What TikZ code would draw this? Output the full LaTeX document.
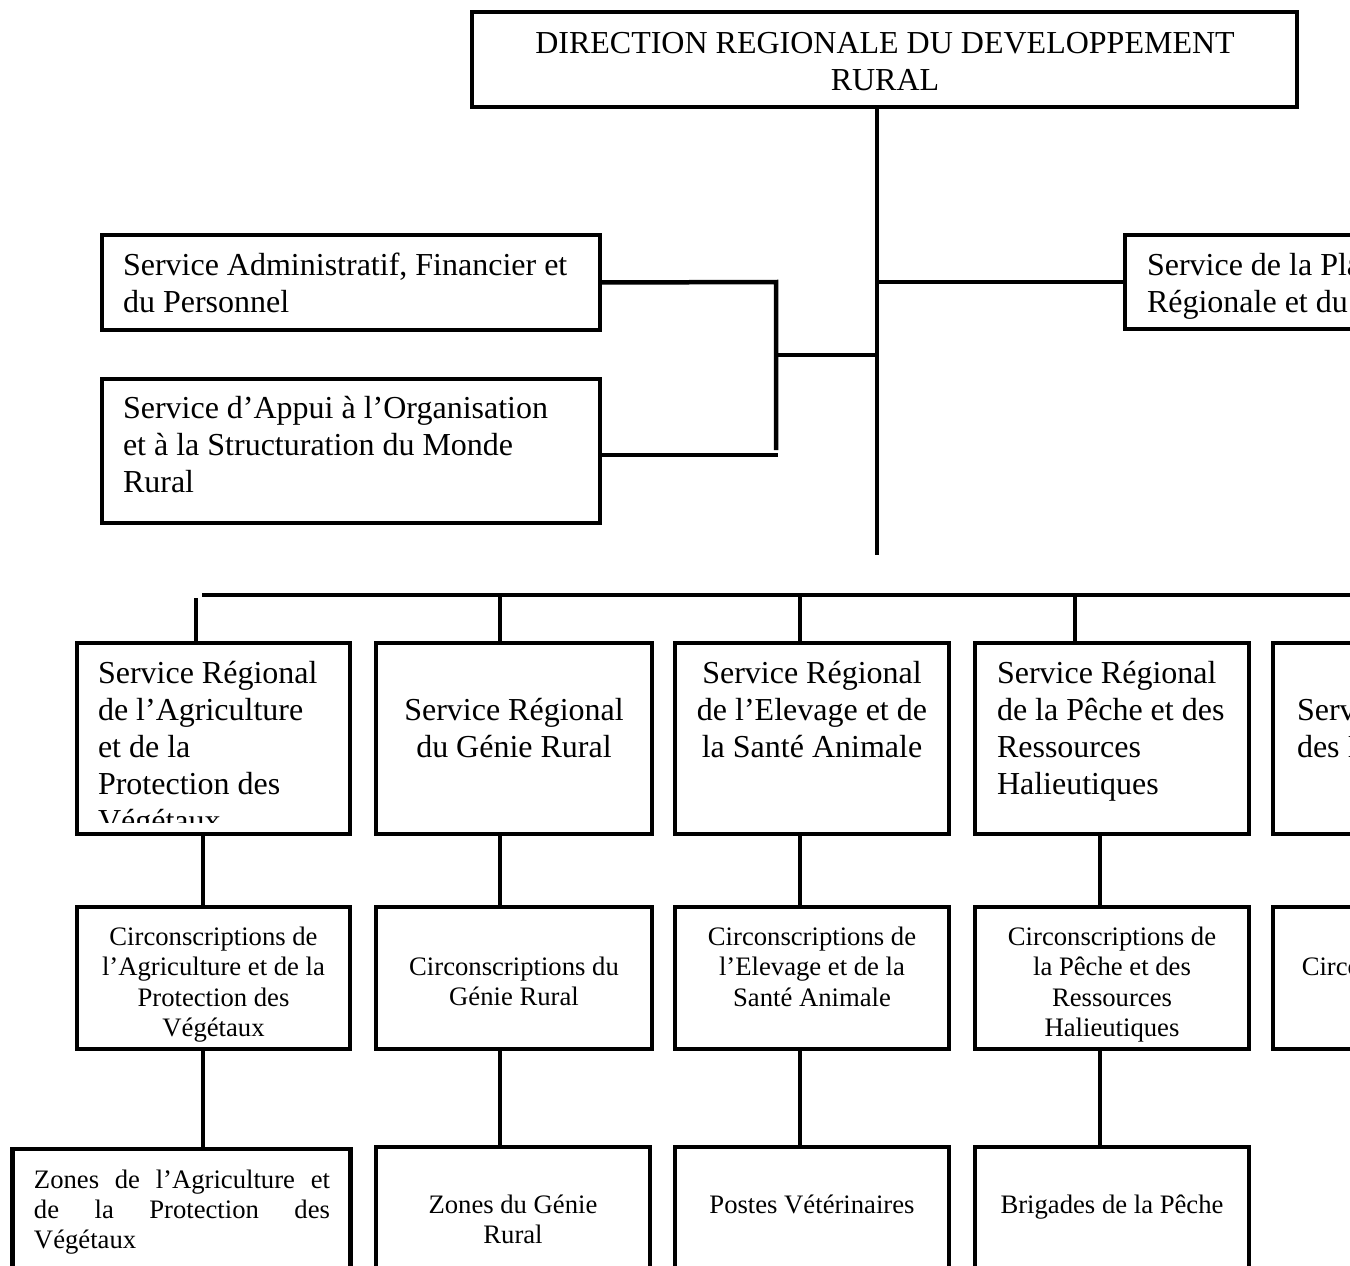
\documentclass[tikz,border=0pt]{standalone}
\usepackage{fontspec}
\setmainfont{Liberation Serif}
\hyphenpenalty=10000
\exhyphenpenalty=10000
\tolerance=10000
\tikzset{
  bx/.style={draw, line width=4.5pt, rectangle, inner sep=0pt, outer sep=0pt, anchor=north west},
  ln/.style={line width=4.5pt},
  big/.style={font=\fontsize{32}{37}\selectfont, inner sep=0pt, outer sep=0pt},
  sml/.style={font=\fontsize{26.67}{30.5}\selectfont, inner sep=0pt, outer sep=0pt},
  smlz/.style={font=\fontsize{26.67}{30}\selectfont, inner sep=0pt, outer sep=0pt},
}
\begin{document}
\begin{tikzpicture}[x=1pt,y=-1pt]
\useasboundingbox (0,0) rectangle (1350,1266);
\fill[white] (0,0) rectangle (1350,1266);
\clip (0,0) rectangle (1350,1266);

% ---------- boxes ----------
\node[bx, minimum width=825, minimum height=95] (dir) at (472,12) {};
\node[bx, minimum width=498, minimum height=95] (saf) at (102,235) {};
\node[bx, minimum width=498, minimum height=144] (sao) at (102,379) {};
\node[bx, minimum width=400, minimum height=94] (spr) at (1125,235) {};

\node[bx, minimum width=273, minimum height=191] (l2a) at (77,643) {};
\node[bx, minimum width=276, minimum height=191] (l2b) at (376,643) {};
\node[bx, minimum width=274, minimum height=191] (l2c) at (675,643) {};
\node[bx, minimum width=274, minimum height=191] (l2d) at (975,643) {};
\node[bx, minimum width=276, minimum height=191] (l2e) at (1273,643) {};

\node[bx, minimum width=273, minimum height=142] (l3a) at (77,907) {};
\node[bx, minimum width=276, minimum height=142] (l3b) at (376,907) {};
\node[bx, minimum width=274, minimum height=142] (l3c) at (675,907) {};
\node[bx, minimum width=274, minimum height=142] (l3d) at (975,907) {};
\node[bx, minimum width=276, minimum height=142] (l3e) at (1273,907) {};

\node[bx, minimum width=338, minimum height=200] (l4a) at (12.5,1149) {};
\node[bx, minimum width=274, minimum height=200] (l4b) at (376,1147) {};
\node[bx, minimum width=274, minimum height=200] (l4c) at (675,1147) {};
\node[bx, minimum width=274, minimum height=200] (l4d) at (975,1147) {};

% ---------- texts ----------
\node[big, align=flush center, text width=800, anchor=base] (dirT) at (885,53)
  {DIRECTION REGIONALE DU DEVELOPPEMENT\\RURAL};
\node[big, align=flush left, text width=470, anchor=base west] (safT) at (123,275)
  {Service Administratif, Financier et\\du Personnel};
\node[big, align=flush left, text width=470, anchor=base west] (saoT) at (123,418)
  {Service d’Appui à l’Organisation\\et à la Structuration du Monde\\Rural};
\node[big, align=flush left, text width=400, anchor=base west] (sprT) at (1147,275)
  {Service de la Planification\\Régionale et du Suivi};

\begin{scope}
\clip (77,643) rectangle (350,822);
\node[big, align=flush left, text width=250, anchor=base west] (l2aT) at (98,683)
  {Service Régional\\de l’Agriculture\\et de la\\Protection des\\Végétaux};
\end{scope}
\node[big, align=flush center, text width=260, anchor=base] (l2bT) at (514,720)
  {Service Régional\\du Génie Rural};
\node[big, align=flush center, text width=260, anchor=base] (l2cT) at (812,683)
  {Service Régional\\de l’Elevage et de\\la Santé Animale};
\node[big, align=flush left, text width=250, anchor=base west] (l2dT) at (997,683)
  {Service Régional\\de la Pêche et des\\Ressources\\Halieutiques};
\node[big, align=flush left, text width=250, anchor=base west] (l2eT) at (1297,720)
  {Service Régional\\des Industries};

\node[sml, align=flush center, text width=260, anchor=base] (l3aT) at (213.5,945)
  {Circonscriptions de\\l’Agriculture et de la\\Protection des\\Végétaux};
\node[sml, align=flush center, text width=260, anchor=base] (l3bT) at (514,975)
  {Circonscriptions du\\Génie Rural};
\node[sml, align=flush center, text width=260, anchor=base] (l3cT) at (812,945)
  {Circonscriptions de\\l’Elevage et de la\\Santé Animale};
\node[sml, align=flush center, text width=260, anchor=base] (l3dT) at (1112,945)
  {Circonscriptions de\\la Pêche et des\\Ressources\\Halieutiques};
\node[sml, align=flush center, text width=260, anchor=base] (l3eT) at (1411,975)
  {Circonscriptions des\\Forêts};

\node[smlz, align=justify, text width=296, anchor=base west] (l4aT) at (34,1188)
  {Zones de l’Agriculture et\linebreak de la Protection des\linebreak Végétaux};
\node[smlz, align=flush center, text width=260, anchor=base] (l4bT) at (513,1213)
  {Zones du Génie\\Rural};
\node[smlz, align=flush center, text width=260, anchor=base] (l4cT) at (812,1213)
  {Postes Vétérinaires};
\node[smlz, align=flush center, text width=260, anchor=base] (l4dT) at (1112,1213)
  {Brigades de la Pêche};

% ---------- connectors ----------
\coordinate (tx) at (877,0);
\coordinate (trunkEnd) at (877,555);
\coordinate (brk) at (776,282);
\coordinate (brkEnd) at (776,450);
\coordinate (brkMid) at (776,355);
\coordinate (saoEnd) at (778,455);
\coordinate (busL) at (202,595);
\coordinate (busR) at (1360,595);
\coordinate (dropA) at (196,598);
\coordinate (xa) at (203,0);
\coordinate (xb) at (500,0);
\coordinate (xc) at (800,0);
\coordinate (xd) at (1100,0);
\coordinate (xbd) at (1075,0);

\draw[ln] (tx |- dir.south) -- (trunkEnd);
\draw[ln] (saf.east) -- (brk) -- (brkEnd);
\draw[ln] (sao.east |- saoEnd) -- (saoEnd);
\draw[ln] (brkMid) -- (tx |- brkMid);
\draw[ln] (tx |- spr.west) -- (spr.west);

\draw[ln] (busL) -- (busR);
\draw[ln] (dropA) -- (dropA |- l2a.north);
\draw[ln] (xb |- busL) -- (xb |- l2b.north);
\draw[ln] (xc |- busL) -- (xc |- l2c.north);
\draw[ln] (xbd |- busL) -- (xbd |- l2d.north);

\draw[ln] (xa |- l2a.south) -- (xa |- l3a.north);
\draw[ln] (xb |- l2b.south) -- (xb |- l3b.north);
\draw[ln] (xc |- l2c.south) -- (xc |- l3c.north);
\draw[ln] (xd |- l2d.south) -- (xd |- l3d.north);

\draw[ln] (xa |- l3a.south) -- (xa |- l4a.north);
\draw[ln] (xb |- l3b.south) -- (xb |- l4b.north);
\draw[ln] (xc |- l3c.south) -- (xc |- l4c.north);
\draw[ln] (xd |- l3d.south) -- (xd |- l4d.north);
\end{tikzpicture}
\end{document}
